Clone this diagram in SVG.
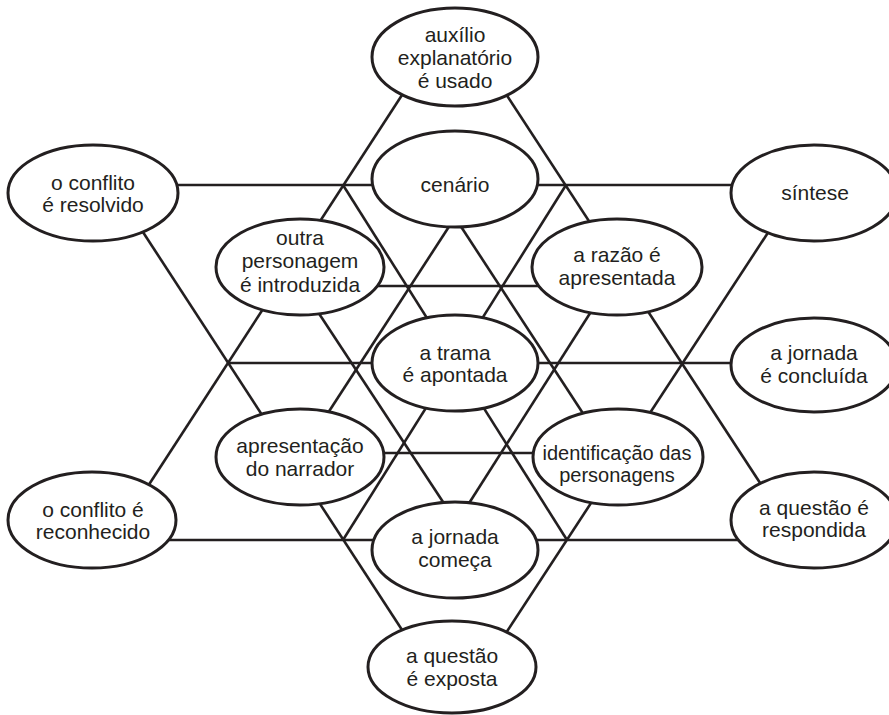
<svg xmlns="http://www.w3.org/2000/svg" width="889" height="715" viewBox="0 0 889 715">
<style>
.bg{fill:#ffffff}
.ln{stroke:#231f20;stroke-width:2.6;fill:none;stroke-linecap:butt}
.nd ellipse{fill:#ffffff;stroke:#231f20;stroke-width:3}
.nd text{font-family:"Liberation Sans",Arial,Helvetica,sans-serif;font-size:21px;fill:#231f20;text-anchor:middle}
</style>
<rect class="bg" x="0" y="0" width="889" height="715"/>
<g id="connectors">
<path class="ln" d="M93,185 H814"/>
<path class="ln" d="M300,286 H617"/>
<path class="ln" d="M228,363 H814"/>
<path class="ln" d="M300,453 H617"/>
<path class="ln" d="M92,540 H814"/>
<path class="ln" d="M145.6,489.7 L406.4,88.3"/>
<path class="ln" d="M504,91 L764,489"/>
<path class="ln" d="M139,226 L406,636"/>
<path class="ln" d="M771,228 L504,636"/>
<path class="ln" d="M566,185 L343,540"/>
<path class="ln" d="M343,185 L567,540"/>
<path class="ln" d="M452,222 L326,416"/>
<path class="ln" d="M458,222 L586,418"/>
<path class="ln" d="M316,309 L447,508"/>
<path class="ln" d="M594,307 L466,508"/>
</g>
<g id="n-auxilio" class="nd">
<ellipse cx="455" cy="57" rx="83" ry="49"/>
<text x="455" y="42">auxílio</text>
<text x="455" y="65">explanatório</text>
<text x="455" y="88">é usado</text>
</g>
<g id="n-cenario" class="nd">
<ellipse cx="455" cy="179" rx="83" ry="48"/>
<text x="455" y="192">cenário</text>
</g>
<g id="n-conflito-resolvido" class="nd">
<ellipse cx="93" cy="193" rx="85" ry="48"/>
<text x="93" y="190">o conflito</text>
<text x="93" y="212">é resolvido</text>
</g>
<g id="n-sintese" class="nd">
<ellipse cx="814" cy="193" rx="83" ry="48"/>
<text x="815" y="200">síntese</text>
</g>
<g id="n-outra-personagem" class="nd">
<ellipse cx="300" cy="267" rx="84" ry="48"/>
<text x="300" y="245">outra</text>
<text x="300" y="268">personagem</text>
<text x="300" y="292">é introduzida</text>
</g>
<g id="n-razao" class="nd">
<ellipse cx="617" cy="267" rx="85" ry="48"/>
<text x="617" y="262">a razão é</text>
<text x="617" y="285">apresentada</text>
</g>
<g id="n-trama" class="nd">
<ellipse cx="455" cy="363" rx="83" ry="48"/>
<text x="455" y="360">a trama</text>
<text x="455" y="382">é apontada</text>
</g>
<g id="n-jornada-concluida" class="nd">
<ellipse cx="814" cy="365" rx="83" ry="47"/>
<text x="814" y="360">a jornada</text>
<text x="814" y="383">é concluída</text>
</g>
<g id="n-narrador" class="nd">
<ellipse cx="300" cy="457" rx="84" ry="48"/>
<text x="300" y="453">apresentação</text>
<text x="300" y="476">do narrador</text>
</g>
<g id="n-identificacao" class="nd">
<ellipse cx="618" cy="457" rx="85" ry="48"/>
<text x="617" y="460" style="font-size:20px">identificação das</text>
<text x="617" y="482" style="font-size:20px">personagens</text>
</g>
<g id="n-conflito-reconhecido" class="nd">
<ellipse cx="92" cy="520" rx="84" ry="48"/>
<text x="93" y="517">o conflito é</text>
<text x="93" y="539">reconhecido</text>
</g>
<g id="n-jornada-comeca" class="nd">
<ellipse cx="455" cy="550" rx="83" ry="48"/>
<text x="455" y="544">a jornada</text>
<text x="455" y="567">começa</text>
</g>
<g id="n-questao-respondida" class="nd">
<ellipse cx="814" cy="520" rx="83" ry="48"/>
<text x="814" y="515">a questão é</text>
<text x="814" y="537">respondida</text>
</g>
<g id="n-questao-exposta" class="nd">
<ellipse cx="452" cy="667" rx="84" ry="46"/>
<text x="452" y="663">a questão</text>
<text x="452" y="686">é exposta</text>
</g>
</svg>
